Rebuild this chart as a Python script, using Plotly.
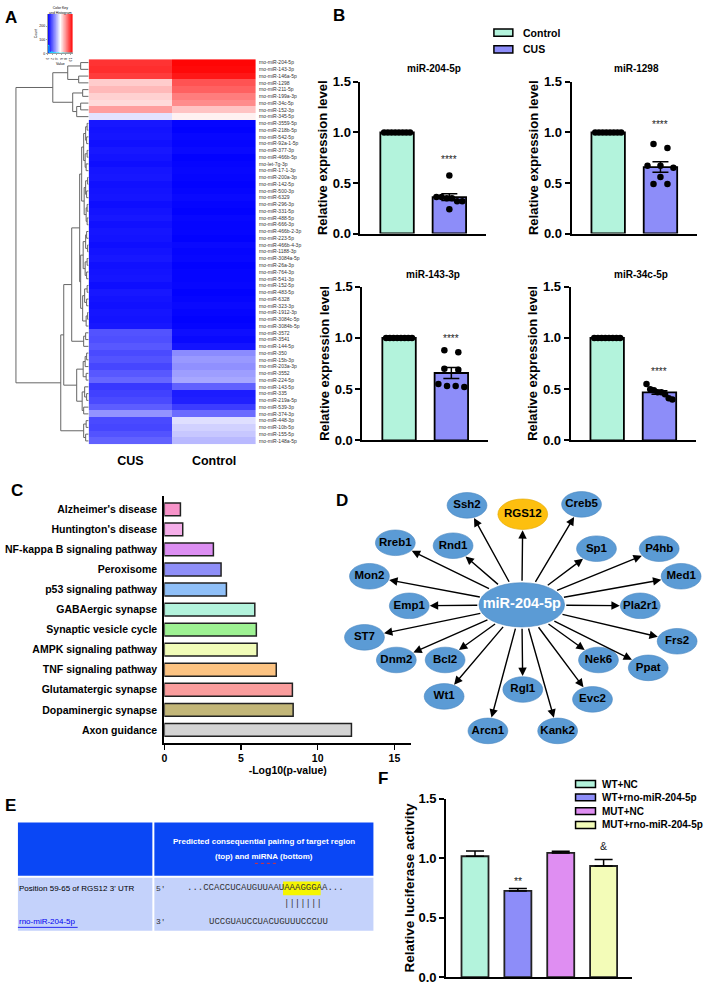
import numpy as np
import plotly.graph_objects as go

W, H = 708, 992
FONT = "Liberation Sans, Arial, Helvetica, sans-serif"
MONO = "Liberation Mono, Courier New, monospace"

# ======================= DATA =======================
# ---- Panel A: heatmap of differentially expressed miRNAs ----
mirna_labels = [
    "rno-miR-204-5p", "rno-miR-143-3p", "rno-miR-146a-5p", "rno-miR-1298", "rno-miR-211-5p",
    "rno-miR-199a-3p", "rno-miR-34c-5p", "rno-miR-152-3p", "rno-miR-345-5p", "rno-miR-3559-5p",
    "rno-miR-218b-5p", "rno-miR-542-5p", "rno-miR-92a-1-5p", "rno-miR-377-3p", "rno-miR-466b-5p",
    "rno-let-7g-3p", "rno-miR-17-1-3p", "rno-miR-200a-3p", "rno-miR-142-5p", "rno-miR-500-3p",
    "rno-miR-6329", "rno-miR-296-3p", "rno-miR-331-5p", "rno-miR-488-5p", "rno-miR-666-3p",
    "rno-miR-466b-2-3p", "rno-miR-223-5p", "rno-miR-466b-4-3p", "rno-miR-1188-3p", "rno-miR-3084a-5p",
    "rno-miR-26a-3p", "rno-miR-764-3p", "rno-miR-541-3p", "rno-miR-152-5p", "rno-miR-483-5p",
    "rno-miR-6328", "rno-miR-323-3p", "rno-miR-1912-3p", "rno-miR-3084c-5p", "rno-miR-3084b-5p",
    "rno-miR-3572", "rno-miR-3541", "rno-miR-144-5p", "rno-miR-350", "rno-miR-15b-3p",
    "rno-miR-203a-3p", "rno-miR-3552", "rno-miR-224-5p", "rno-miR-143-5p", "rno-miR-335",
    "rno-miR-219a-5p", "rno-miR-539-3p", "rno-miR-374-3p", "rno-miR-448-3p", "rno-miR-10b-5p",
    "rno-miR-155-5p", "rno-miR-148a-5p"]
cus_expr = [9.9, 10.0, 9.7, 6.6, 7.0, 6.5, 6.3, 7.6, 4.9,
            0.5, 0.4, 0.45, 0.35, 0.5, 0.4, 0.3, 0.45, 0.5, 0.35, 0.4, 0.45, 0.3, 0.4, 0.5, 0.35,
            0.45, 0.4, 0.3, 0.4, 0.5, 0.35, 0.4, 0.45, 0.3, 0.5, 0.4, 0.35, 0.45, 0.4, 0.5,
            1.8, 1.7, 1.9, 1.6, 1.8, 1.5, 1.9, 2.2, 1.2, 1.4, 1.6, 2.0, 3.2, 1.6, 1.5, 1.8, 2.1]
control_expr = [10.9, 10.8, 10.5, 9.2, 8.9, 8.3, 8.0, 6.8, 5.8,
                0.1, 0.05, 0.15, 0.1, 0.2, 0.05, 0.1, 0.15, 0.1, 0.05, 0.1, 0.2, 0.1, 0.05, 0.15, 0.1,
                0.1, 0.05, 0.2, 0.1, 0.15, 0.05, 0.1, 0.1, 0.15, 0.05, 0.1, 0.2, 0.1, 0.05, 0.1,
                0.3, 0.2, 0.4, 3.0, 3.3, 3.1, 3.4, 3.6, 2.1, 0.6, 0.7, 1.3, 2.3, 4.8, 4.5, 4.3, 4.0]
heat_groups = ["CUS", "Control"]
# row dendrogram: (left, right, merge height); leaves are row indices
dendro_tree = (
    ((((0, 1, 8), (2, 3, 10), 21), ((4, 5, 6), ((6, 7, 8), 8, 12), 16), 36)),
    ((((((((9, 10, 1.5), (11, 12, 2), 3), ((13, 14, 1.5), (15, 16, 2.5), 3.5), 5),
          (((17, 18, 1), (19, 20, 2), 3), ((21, 22, 1.5), (23, 24, 1.5), 2.5), 4.5), 7),
         ((((25, 26, 2), (27, 28, 1), 3), ((29, 30, 1.5), (31, 32, 2), 3.5), 5.5),
          (((33, 34, 1.5), (35, 36, 2), 4), ((37, 38, 1), 39, 2.5), 6), 8), 9),
        ((40, 41, 3), 42, 5), 17),
       (((((43, 44, 2), 45, 3.5), (46, 47, 2.5), 5.5),
         ((48, (49, 50, 2), 4), (51, 52, 5), 6.5), 12)), 25),
      ((53, 54, 2.5), (55, 56, 3), 5), 28),
    73)

# ---- Panel B: qPCR validation ----
b_titles = ["miR-204-5p", "miR-1298", "miR-143-3p", "miR-34c-5p"]
b_groups = ["Control", "CUS"]
mir204_control = [1.0, 1.0, 1.0, 1.0, 1.0, 1.0, 1.0, 1.0]
mir204_cus = [0.575, 0.36, 0.35, 0.36, 0.35, 0.32, 0.32, 0.24]
mir1298_control = [1.0, 1.0, 1.0, 1.0, 1.0, 1.0, 1.0, 1.0]
mir1298_cus = [0.885, 0.845, 0.67, 0.67, 0.65, 0.56, 0.49, 0.49]
mir143_control = [1.0, 1.0, 1.0, 1.0, 1.0, 1.0, 1.0, 1.0]
mir143_cus = [0.88, 0.86, 0.70, 0.69, 0.55, 0.53, 0.53, 0.52]
mir34c_control = [1.0, 1.0, 1.0, 1.0, 1.0, 1.0, 1.0, 1.0]
mir34c_cus = [0.55, 0.50, 0.49, 0.47, 0.47, 0.45, 0.41, 0.40]
b_sig = ["****", "****", "****", "****"]

# ---- Panel C: KEGG enrichment ----
kegg_pathways = ["Alzheimer's disease", "Huntington's disease", "NF-kappa B signaling pathway",
                 "Peroxisome", "p53 signaling pathway", "GABAergic synapse", "Synaptic vesicle cycle",
                 "AMPK signaling pathway", "TNF signaling pathway", "Glutamatergic synapse",
                 "Dopaminergic synapse", "Axon guidance"]
kegg_neglog10p = [1.05, 1.2, 3.2, 3.7, 4.05, 5.9, 6.0, 6.05, 7.3, 8.35, 8.4, 12.2]

# ---- Panel D: miR-204-5p target network ----
hub_mirna = "miR-204-5p"
target_genes = ["Ssh2", "RGS12", "Creb5", "Rreb1", "Rnd1", "Sp1", "P4hb", "Mon2", "Med1", "Emp1",
                "Pla2r1", "ST7", "Frs2", "Dnm2", "Bcl2", "Nek6", "Ppat", "Wt1", "Rgl1", "Evc2",
                "Arcn1", "Kank2"]
key_target = "RGS12"

# ---- Panel E: binding site ----
site_label = "Position 59-65 of RGS12 3' UTR"
mirna_name = "rno-miR-204-5p"
utr_seq = "...CCACCUCAUGUUAAUAAAGGGAA..."
seed_site = "AAAGGGA"
mirna_seq = "UCCGUAUCCUACUGUUUCCCUU"
seed_pair = "UUUCCCU"

# ---- Panel F: luciferase assay ----
luc_groups = ["WT+NC", "WT+rno-miR-204-5p", "MUT+NC", "MUT+rno-miR-204-5p"]
luc_mean = [1.017, 0.725, 1.045, 0.935]
luc_sem = [0.045, 0.02, 0.015, 0.055]
luc_marks = ["", "**", "", "&"]

# ======================= STYLE / LAYOUT HELPERS =======================
C_CTRL, C_CUS = "#b3f3dc", "#8d8df9"
C_KEGG = ["#f793c9", "#f5aee9", "#dc8ef2", "#8e8ef7", "#8fbff7", "#b3f3dc",
          "#9ef293", "#f1fcb8", "#fcc382", "#fa9d9d", "#c2b678", "#d4d4d4"]
C_LUC = ["#b3f3dc", "#8d8df9", "#df8ef2", "#f3fcb8"]
NODE_BLUE, NODE_GOLD = "#5b9bd5", "#fdbf0f"
BWR = [[0, "rgb(0,0,255)"], [0.5, "rgb(255,255,255)"], [1, "rgb(255,0,0)"]]


def X(p):
    return p / W


def Y(p):
    return 1 - p / H


def dx(a, b):
    return [a / W, b / W]


def dy(top, bottom):
    return [1 - bottom / H, 1 - top / H]


fig = go.Figure()
ann, shp = [], []
lay = dict(width=W, height=H, margin=dict(l=0, r=0, t=0, b=0), autosize=False,
           paper_bgcolor="white", plot_bgcolor="rgba(0,0,0,0)", showlegend=False,
           font=dict(family=FONT, color="black"))


def text(x, y, s, size, bold=False, color="black", anchor="center", family=FONT, **kw):
    d = dict(x=X(x), y=Y(y), xref="paper", yref="paper", text=s, showarrow=False,
             xanchor=anchor, yanchor="middle", borderpad=0,
             font=dict(size=size, color=color, family=family, weight="bold" if bold else "normal"))
    d.update(kw)
    ann.append(d)


# panel letters
for letter, lx, ly in [("A", 1, 11), ("B", 330, 9), ("C", 7, 491), ("D", 333, 501), ("E", 1, 811), ("F", 376, 783)]:
    text(lx, ly, letter, 17, bold=True, anchor="left")

# ======================= PANEL A =======================
nrow = len(mirna_labels)
Z = np.column_stack([cus_expr, control_expr])
fig.add_trace(go.Heatmap(z=Z, x=[0, 1], y=np.arange(nrow), colorscale=BWR, zmin=0, zmax=11,
                         showscale=False, hoverinfo="skip", xaxis="x", yaxis="y"))
lay["xaxis"] = dict(domain=dx(86, 254), range=[-0.5, 1.5], tickmode="array", tickvals=[0, 1],
                    ticktext=heat_groups, tickfont=dict(size=12.5, weight="bold"), ticks="",
                    showline=False, showgrid=False, zeroline=False, anchor="y", ticklabelstandoff=7)
lay["yaxis"] = dict(domain=dy(53, 444), range=[nrow - 0.5, -0.5], tickmode="array",
                    tickvals=list(range(nrow)), ticktext=mirna_labels, side="right",
                    tickfont=dict(size=5, color="#333"), ticks="", showgrid=False, zeroline=False,
                    anchor="x", ticklabelstandoff=2)

# colour key with histogram
key_edges = np.linspace(0, 11, 111)
key_mid = (key_edges[:-1] + key_edges[1:]) / 2
counts, bins = np.histogram(Z.ravel(), bins=np.arange(0, 11.5, 0.5))
kmax = counts.max() * 5
fig.add_trace(go.Heatmap(x=key_edges, y=[0, kmax], z=[key_mid], colorscale=BWR, zmin=0, zmax=11,
                         showscale=False, hoverinfo="skip", xaxis="x2", yaxis="y2"))
fig.add_trace(go.Scatter(x=list(bins), y=list(counts) + [counts[-1]], mode="lines", line_shape="hv",
                         line=dict(color="cyan", width=0.8), hoverinfo="skip", xaxis="x2", yaxis="y2"))
lay["xaxis2"] = dict(domain=dx(45, 70), range=[0, 11], tickvals=[0, 2, 4, 6, 8, 10], ticks="outside",
                     ticklen=1.5, tickwidth=0.5, tickfont=dict(size=3.5), showline=True, linewidth=0.5,
                     linecolor="#444", showgrid=False, zeroline=False, anchor="y2",
                     title=dict(text="Value", font=dict(size=3.5), standoff=1))
lay["yaxis2"] = dict(domain=dy(7, 47), range=[0, kmax], ticks="outside", ticklen=1.5, tickwidth=0.5,
                     tickfont=dict(size=3.5), showline=True, linewidth=0.5, linecolor="#444", nticks=5,
                     showgrid=False, zeroline=False, anchor="x2",
                     title=dict(text="Count", font=dict(size=3.5), standoff=1))
text(57.5, 4, "Color Key<br>and Histogram", 3.5)

# dendrogram
seg_x, seg_y = [], []


def walk(node):
    if isinstance(node, int):
        return float(node), 0.0
    left, right, h = node
    yl, hl = walk(left)
    yr, hr = walk(right)
    seg_x.extend([hl, h, h, hr, None])
    seg_y.extend([yl, yl, yr, yr, None])
    return (yl + yr) / 2, h


walk(dendro_tree)
fig.add_trace(go.Scatter(x=seg_x, y=seg_y, mode="lines", line=dict(color="#666", width=1),
                         hoverinfo="skip", xaxis="x3", yaxis="y3"))
lay["xaxis3"] = dict(domain=dx(12, 86), range=[74, 0], visible=False, anchor="y3")
lay["yaxis3"] = dict(domain=dy(53, 444), range=[nrow - 0.5, -0.5], visible=False, anchor="x3")

# ======================= PANEL B =======================


def swarm(vals, ypx, spread=26.0, maxgap=14.0, thr=6.5):
    vals = np.asarray(vals, float)
    order = np.argsort(-vals, kind="stable")
    offs = np.zeros(len(vals))
    groups, cur = [], [order[0]]
    for i in order[1:]:
        if abs(vals[i] - vals[cur[-1]]) * ypx < thr:
            cur.append(i)
        else:
            groups.append(cur)
            cur = [i]
    groups.append(cur)
    for g in groups:
        k = len(g)
        gap = min(spread / (k - 1), maxgap) if k > 1 else 0
        for j, idx in enumerate(g):
            offs[idx] = (j - (k - 1) / 2) * gap
    return offs


b_sets = [(mir204_control, mir204_cus), (mir1298_control, mir1298_cus),
          (mir143_control, mir143_cus), (mir34c_control, mir34c_cus)]
b_boxes = [(359, 485, 76, 230), (571, 697, 76, 230), (361, 487, 284, 440), (570, 696, 284, 440)]
b_title_x = [433, 636, 432, 641]
b_title_y = [62, 62, 272, 272]
b_star_y = [0.73, 1.08, 0.99, 0.67]
for i, ((ctrl, cus), (x0, x1, t, b)) in enumerate(zip(b_sets, b_boxes)):
    n = 4 + i
    xa, ya = f"x{n}", f"y{n}"
    groups = [np.asarray(ctrl, float), np.asarray(cus, float)]
    means = [g.mean() for g in groups]
    sems = [g.std(ddof=1) / np.sqrt(len(g)) for g in groups]
    fig.add_trace(go.Bar(x=[0, 1], y=means, width=0.64,
                         marker=dict(color=[C_CTRL, C_CUS], line=dict(color="black", width=1.8)),
                         error_y=dict(type="data", array=sems, color="black", thickness=1.5, width=8),
                         hoverinfo="skip", xaxis=xa, yaxis=ya))
    xpx = (x1 - x0) / 2.4
    ypx = (b - t) / 1.5
    for gi, g in enumerate(groups):
        offs = swarm(g, ypx) / xpx
        fig.add_trace(go.Scatter(x=gi + offs, y=g, mode="markers", marker=dict(size=6.5, color="black"),
                                 hoverinfo="skip", xaxis=xa, yaxis=ya))
    lay[f"xaxis{n}"] = dict(domain=dx(x0, x1), range=[-0.7, 1.7], showline=True, linecolor="black",
                            linewidth=2, showticklabels=False, ticks="", showgrid=False, zeroline=False,
                            anchor=ya)
    lay[f"yaxis{n}"] = dict(domain=dy(t, b), range=[0, 1.5], tickmode="array", tickvals=[0, 0.5, 1, 1.5],
                            ticktext=["0.0", "0.5", "1.0", "1.5"], ticks="outside", ticklen=5, tickwidth=2,
                            tickcolor="black", showline=True, linecolor="black", linewidth=2,
                            tickfont=dict(size=13, weight="bold"), showgrid=False, zeroline=False,
                            anchor=xa,
                            title=dict(text="Relative expression level", font=dict(size=13, weight="bold"),
                                       standoff=2))
    text(b_title_x[i], b_title_y[i], b_titles[i], 10, bold=True)
    ann.append(dict(x=1, y=b_star_y[i], xref=xa, yref=ya, text=b_sig[i], showarrow=False,
                    font=dict(size=10, color="#222"), yanchor="middle"))

# B legend
for k, (name, col, cy) in enumerate(zip(b_groups, [C_CTRL, C_CUS], [26, 43])):
    shp.append(dict(type="rect", xref="paper", yref="paper", x0=X(493), x1=X(512), y0=Y(cy + 3.7),
                    y1=Y(cy - 3.7), fillcolor=col, line=dict(color="black", width=1.5)))
    text(521, cy, name, 10.5, bold=True, anchor="left")

# ======================= PANEL C =======================
nC = len(kegg_pathways)
fig.add_trace(go.Bar(x=kegg_neglog10p, y=np.arange(nC), orientation="h", width=0.64,
                     marker=dict(color=C_KEGG, line=dict(color="#222", width=1.5)),
                     hoverinfo="skip", xaxis="x8", yaxis="y8"))
lay["xaxis8"] = dict(domain=dx(162, 410), range=[0, 16.1], tickvals=[0, 5, 10, 15], ticks="outside",
                     ticklen=5, tickwidth=1.5, tickcolor="black", showline=True, linewidth=2,
                     linecolor="black", tickfont=dict(size=10.5, weight="bold"), showgrid=False,
                     zeroline=False, anchor="y8",
                     title=dict(text="-Log10(p-value)", font=dict(size=10.5, weight="bold"), standoff=3))
lay["yaxis8"] = dict(domain=dy(497, 747), range=[nC - 1 + 0.64, -0.64], tickmode="array",
                     tickvals=list(range(nC)), ticktext=kegg_pathways, ticks="", showline=True, linewidth=2,
                     linecolor="black", tickfont=dict(size=10.5, weight="bold"), showgrid=False,
                     zeroline=False, anchor="x8", ticklabelstandoff=3)

# ======================= PANEL D =======================
d_layout = dict(hub=(521, 607),
                x=[466, 522, 581, 394, 452, 596, 659, 368, 681, 408, 640, 363, 677, 395, 444, 598, 648,
                   443, 522, 592, 487, 557],
                y=[506, 515, 505, 544, 547, 550, 550, 578, 578, 608, 608, 640, 644, 663, 663, 663, 671,
                   700, 693, 703, 735, 735])
hx, hy = d_layout["hub"]
ca, cb = 43, 22.5
for name, nx, ny in zip(target_genes, d_layout["x"], d_layout["y"]):
    a, b = (25, 15.5) if name == key_target else (20, 13)
    shp.append(dict(type="circle", xref="x9", yref="y9", x0=nx - a, x1=nx + a, y0=ny - b, y1=ny + b,
                    fillcolor=NODE_GOLD if name == key_target else NODE_BLUE,
                    line=dict(color="#4a86c0" if name != key_target else "#e0a800", width=0.6),
                    layer="below"))
    th = np.arctan2(ny - hy, nx - hx)
    rn = a * b / np.hypot(b * np.cos(th), a * np.sin(th))
    rc = ca * cb / np.hypot(cb * np.cos(th), ca * np.sin(th))
    ann.append(dict(x=nx, y=ny, ax=hx, ay=hy, xref="x9", yref="y9", axref="x9", ayref="y9", text="",
                    showarrow=True, arrowhead=2, arrowsize=1.2, arrowwidth=1.4, arrowcolor="black",
                    standoff=float(rn) + 0.5, startstandoff=float(rc)))
shp.append(dict(type="circle", xref="x9", yref="y9", x0=hx - ca, x1=hx + ca, y0=hy - cb, y1=hy + cb,
                fillcolor=NODE_BLUE, line=dict(color="#4a86c0", width=0.6), layer="below"))
fig.add_trace(go.Scatter(x=d_layout["x"], y=d_layout["y"], mode="text", text=target_genes,
                         textfont=dict(size=11.5, weight="bold", color="black"), hoverinfo="skip",
                         xaxis="x9", yaxis="y9"))
fig.add_trace(go.Scatter(x=[hx], y=[hy], mode="text", text=[hub_mirna],
                         textfont=dict(size=14.5, weight="bold", color="white"), hoverinfo="skip",
                         xaxis="x9", yaxis="y9"))
lay["xaxis9"] = dict(domain=dx(340, 708), range=[340, 708], visible=False, anchor="y9")
lay["yaxis9"] = dict(domain=dy(490, 760), range=[760, 490], visible=False, anchor="x9")

# ======================= PANEL E =======================
E_HEAD, E_BODY = "#0a47f5", "#c4d2fb"


def rect(x0, y0, x1, y1, fill):
    shp.append(dict(type="rect", xref="paper", yref="paper", x0=X(x0), x1=X(x1), y0=Y(y1), y1=Y(y0),
                    fillcolor=fill, line=dict(width=0), layer="below"))


rect(15, 828, 150, 882, E_HEAD)
rect(152, 828, 372, 882, E_HEAD)
rect(15, 884, 150, 938, E_BODY)
rect(152, 884, 372, 938, E_BODY)
text(262, 847, "Predicted consequential pairing of target region", 8, bold=True, color="white")
text(262, 863, "(top) and miRNA (bottom)", 8, bold=True, color="white")
shp.append(dict(type="line", xref="paper", yref="paper", x0=X(253), x1=X(277), y0=Y(869.5), y1=Y(869.5),
                line=dict(color="#e03030", width=1, dash="dot")))
seq_font = 9
cw = 0.6 * seq_font
seq_x0 = 184
hs = seq_x0 + utr_seq.index(seed_site) * cw
he = hs + len(seed_site) * cw
rect(hs, 888, he, 902, "#f5f500")
text(15, 895, site_label, 8, anchor="left")
text(153, 895, "5'", 8, color="#333", anchor="left", family=MONO)
text(seq_x0, 895, utr_seq, seq_font, color="#333", anchor="left", family=MONO)
text(hs, 911, "|" * len(seed_site), seq_font, color="#333", anchor="left", family=MONO)
text(153, 929, "3'", 8, color="#333", anchor="left", family=MONO)
text(hs - mirna_seq.index(seed_pair) * cw, 929, mirna_seq, seq_font, color="#333", anchor="left",
     family=MONO)
text(15, 929, mirna_name, 8, color="#0000ee", anchor="left")
shp.append(dict(type="line", xref="paper", yref="paper", x0=X(15), x1=X(75), y0=Y(934.5), y1=Y(934.5),
                line=dict(color="#0000ee", width=0.8)))

# ======================= PANEL F =======================
nL = len(luc_groups)
fig.add_trace(go.Bar(x=np.arange(nL), y=luc_mean, width=0.63,
                     marker=dict(color=C_LUC, line=dict(color="#222", width=1.8)),
                     error_y=dict(type="data", symmetric=False, array=luc_sem, arrayminus=[0] * nL,
                                  color="black", thickness=1.5, width=9),
                     hoverinfo="skip", xaxis="x10", yaxis="y10"))
for i in range(nL):
    if luc_marks[i]:
        ann.append(dict(x=i, y=luc_mean[i] + luc_sem[i] + (0.06 if luc_marks[i] == "**" else 0.11),
                        xref="x10", yref="y10", text=luc_marks[i], showarrow=False,
                        font=dict(size=10.5, color="#222"), yanchor="middle"))
lay["xaxis10"] = dict(domain=dx(445, 632), range=[-0.674, 3.67], showline=True, linecolor="black",
                      linewidth=2, showticklabels=False, ticks="", showgrid=False, zeroline=False,
                      anchor="y10")
lay["yaxis10"] = dict(domain=dy(804, 985), range=[0, 1.5], tickmode="array", tickvals=[0, 0.5, 1, 1.5],
                      ticktext=["0.0", "0.5", "1.0", "1.5"], ticks="outside", ticklen=5, tickwidth=2,
                      tickcolor="black", showline=True, linecolor="black", linewidth=2,
                      tickfont=dict(size=13, weight="bold"), showgrid=False, zeroline=False, anchor="x10",
                      title=dict(text="Relative luciferase activity", font=dict(size=13.5, weight="bold"),
                                 standoff=1))
for name, col, cy in zip(luc_groups, C_LUC, [789, 802.5, 816.5, 830.5]):
    shp.append(dict(type="rect", xref="paper", yref="paper", x0=X(575), x1=X(595), y0=Y(cy + 3.5),
                    y1=Y(cy - 3.5), fillcolor=col, line=dict(color="black", width=1.5)))
    text(601, cy, name, 10, bold=True, anchor="left")

for k in list(lay.keys()):
    if k.startswith("xaxis") or k.startswith("yaxis"):
        lay[k].setdefault("fixedrange", True)
lay["annotations"] = ann
lay["shapes"] = shp
fig.update_layout(**lay)
fig.write_html("out.html", config={"displayModeBar": False, "staticPlot": True},
               post_script="document.body.style.margin='0px';document.body.style.overflow='hidden';")
